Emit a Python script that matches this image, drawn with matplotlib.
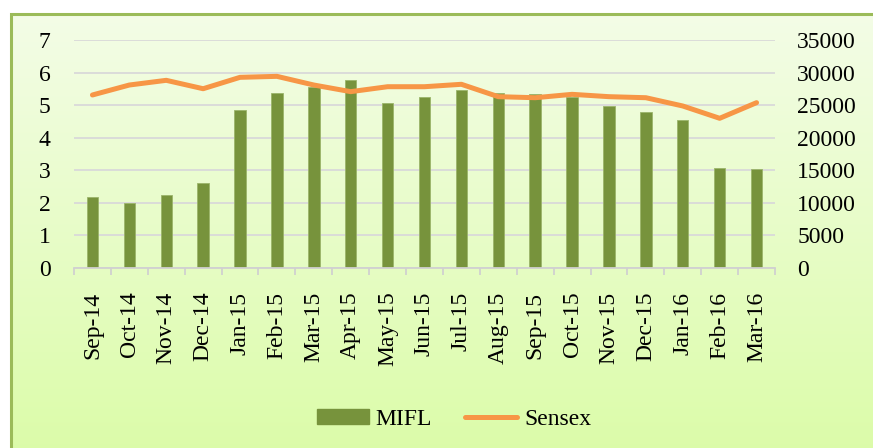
import matplotlib.pyplot as plt
import numpy as np
from matplotlib.patches import Rectangle
from matplotlib.lines import Line2D

plt.rcParams['font.family'] = ['Liberation Serif', 'DejaVu Serif']

months = ['Sep-14', 'Oct-14', 'Nov-14', 'Dec-14', 'Jan-15', 'Feb-15', 'Mar-15',
          'Apr-15', 'May-15', 'Jun-15', 'Jul-15', 'Aug-15', 'Sep-15', 'Oct-15',
          'Nov-15', 'Dec-15', 'Jan-16', 'Feb-16', 'Mar-16']
mifl = [2.18, 2.01, 2.23, 2.6, 4.85, 5.38, 5.56, 5.76, 5.08, 5.24, 5.48, 5.38,
        5.33, 5.26, 4.98, 4.78, 4.54, 3.06, 3.03]
sensex = [26560, 28090, 28810, 27520, 29270, 29420, 28090, 27070, 27830, 27830,
          28200, 26300, 26140, 26660, 26300, 26140, 24870, 22980, 25380]

W, H = 873, 448
fig = plt.figure(figsize=(W / 100, H / 100), dpi=100)
fig.patch.set_facecolor('white')

# chart area background with vertical gradient
bg = fig.add_axes([11 / W, 0, 1 - 11 / W, 1 - 14 / H], zorder=0)
grad = np.linspace(0, 1, 256).reshape(-1, 1)
top = np.array([0.955, 0.992, 0.905])
bot = np.array([0.862, 0.988, 0.665])
img = top + (bot - top) * grad[:, :, None]
bg.imshow(img, aspect='auto', extent=[0, 1, 0, 1], origin='upper')
bg.set_axis_off()
fig.add_artist(Rectangle((11 / W, -0.05), 1.2, 1 - 14 / H + 0.05,
                         transform=fig.transFigure, fill=False,
                         edgecolor='#9bbb59', lw=2.2, zorder=1))

ax = fig.add_axes([74 / W, 1 - 268 / H, 701 / W, 228 / H], zorder=2)
ax.patch.set_alpha(0)
x = np.arange(len(months))
ax.bar(x, mifl, width=0.31, color='#77933c', edgecolor='#9bb56a', lw=0.6,
       zorder=2)
ax.set_xlim(-0.5, len(months) - 0.5)
ax.set_ylim(0, 7)
ax.set_yticks(range(8))
ax.grid(axis='y', color='#d9d9d9', lw=1.3, zorder=0)
ax.set_axisbelow(True)
for s in ['top', 'left', 'right']:
    ax.spines[s].set_visible(False)
ax.spines['bottom'].set_color('#d0d0d0')
ax.spines['bottom'].set_linewidth(1.3)
ax.set_xticks(x)
ax.set_xticklabels(months, rotation=90, fontsize=17)
ax.set_xticks(np.arange(-0.5, len(months), 1), minor=True)
ax.tick_params(axis='x', which='major', length=0, pad=17)
ax.tick_params(axis='x', which='minor', length=5, color='#d0d0d0', width=1.3)
ax.tick_params(axis='y', length=0, pad=17, labelsize=17)

ax2 = ax.twinx()
ax2.plot(x, sensex, color='#f79646', lw=3.6, solid_capstyle='round', zorder=3)
ax2.set_ylim(0, 35000)
ax2.set_yticks(range(0, 35001, 5000))
for s in ax2.spines.values():
    s.set_visible(False)
ax2.tick_params(axis='y', length=0, pad=16, labelsize=17)

handles = [Rectangle((0, 0), 1, 1, color='#77933c'),
           Line2D([], [], color='#f79646', lw=3.6, solid_capstyle='round')]
fig.legend(handles, ['MIFL', 'Sensex'], loc='center', ncol=2,
           bbox_to_anchor=(0.52, 0.064), frameon=False, fontsize=17,
           handlelength=2.2, handleheight=0.55, handletextpad=0.3,
           columnspacing=1.4)

fig.savefig('out.png', dpi=100)
